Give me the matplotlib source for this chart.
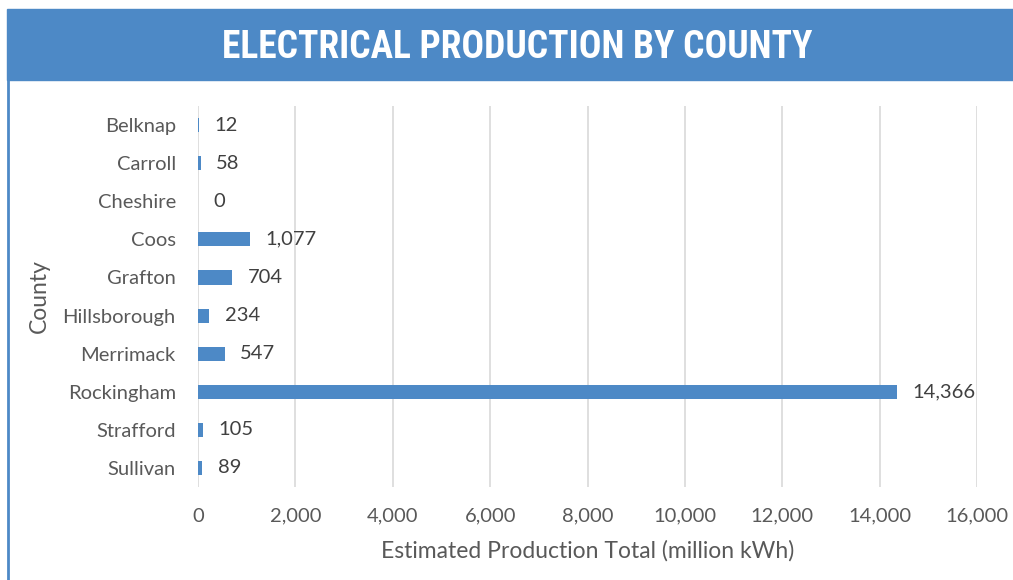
import matplotlib
matplotlib.use("Agg")
import matplotlib.pyplot as plt
from matplotlib.patches import Rectangle
from matplotlib.lines import Line2D
import matplotlib.ticker as ticker

counties = ["Belknap", "Carroll", "Cheshire", "Coos", "Grafton",
            "Hillsborough", "Merrimack", "Rockingham", "Strafford", "Sullivan"]
production = [12, 58, 0, 1077, 704, 234, 547, 14366, 105, 89]
x_ticks = [0, 2000, 4000, 6000, 8000, 10000, 12000, 14000, 16000]

blue = "#4d89c6"
plt.rcParams["font.family"] = ["Lato", "DejaVu Sans"]

fig = plt.figure(figsize=(10.13, 5.8), dpi=100)
ax = fig.add_axes([0.1955, 0.1603, 0.769, 0.6569])

# title banner and left border
fig.patches.append(Rectangle((7 / 1013, 1 - 80 / 580), 1 - 7 / 1013, 71 / 580,
                             transform=fig.transFigure, color=blue, zorder=0))
fig.lines.append(Line2D([8 / 1013, 8 / 1013], [0, 1 - 80 / 580],
                        transform=fig.transFigure, color=blue, linewidth=2))
fig.text(0.511, 1 - 48 / 580, "ELECTRICAL PRODUCTION BY COUNTY",
         ha="center", va="center", color="white", fontsize=27,
         fontweight="bold", fontstretch="condensed",
         family=["Roboto Condensed", "Liberation Sans Narrow", "Roboto", "DejaVu Sans"])

ypos = list(range(len(counties)))
ax.barh(ypos, production, height=0.37, color=blue, zorder=3)
for y, v in zip(ypos, production):
    ax.annotate(f"{v:,}", xy=(v, y), xytext=(11, 0), textcoords="offset points",
                va="center", ha="left", fontsize=14.5, color="#404040")

ax.set_ylim(len(counties) - 0.5, -0.5)
ax.set_yticks(ypos)
ax.set_yticklabels(counties)
ax.set_xlim(0, 16000)
ax.set_xticks(x_ticks)
ax.xaxis.set_major_formatter(ticker.FuncFormatter(lambda v, p: f"{int(v):,}"))
ax.tick_params(axis="both", length=0, labelsize=14.5, labelcolor="#595959")
ax.tick_params(axis="y", pad=16)
ax.tick_params(axis="x", pad=15)
ax.grid(axis="x", color="#d9d9d9", linewidth=1.2, zorder=0)
for s in ax.spines.values():
    s.set_visible(False)

ax.set_xlabel("Estimated Production Total (million kWh)", fontsize=16.5,
              color="#595959", labelpad=11)
ax.set_ylabel("County", fontsize=16.5, color="#595959", labelpad=9)

fig.savefig("out.png", dpi=100)
